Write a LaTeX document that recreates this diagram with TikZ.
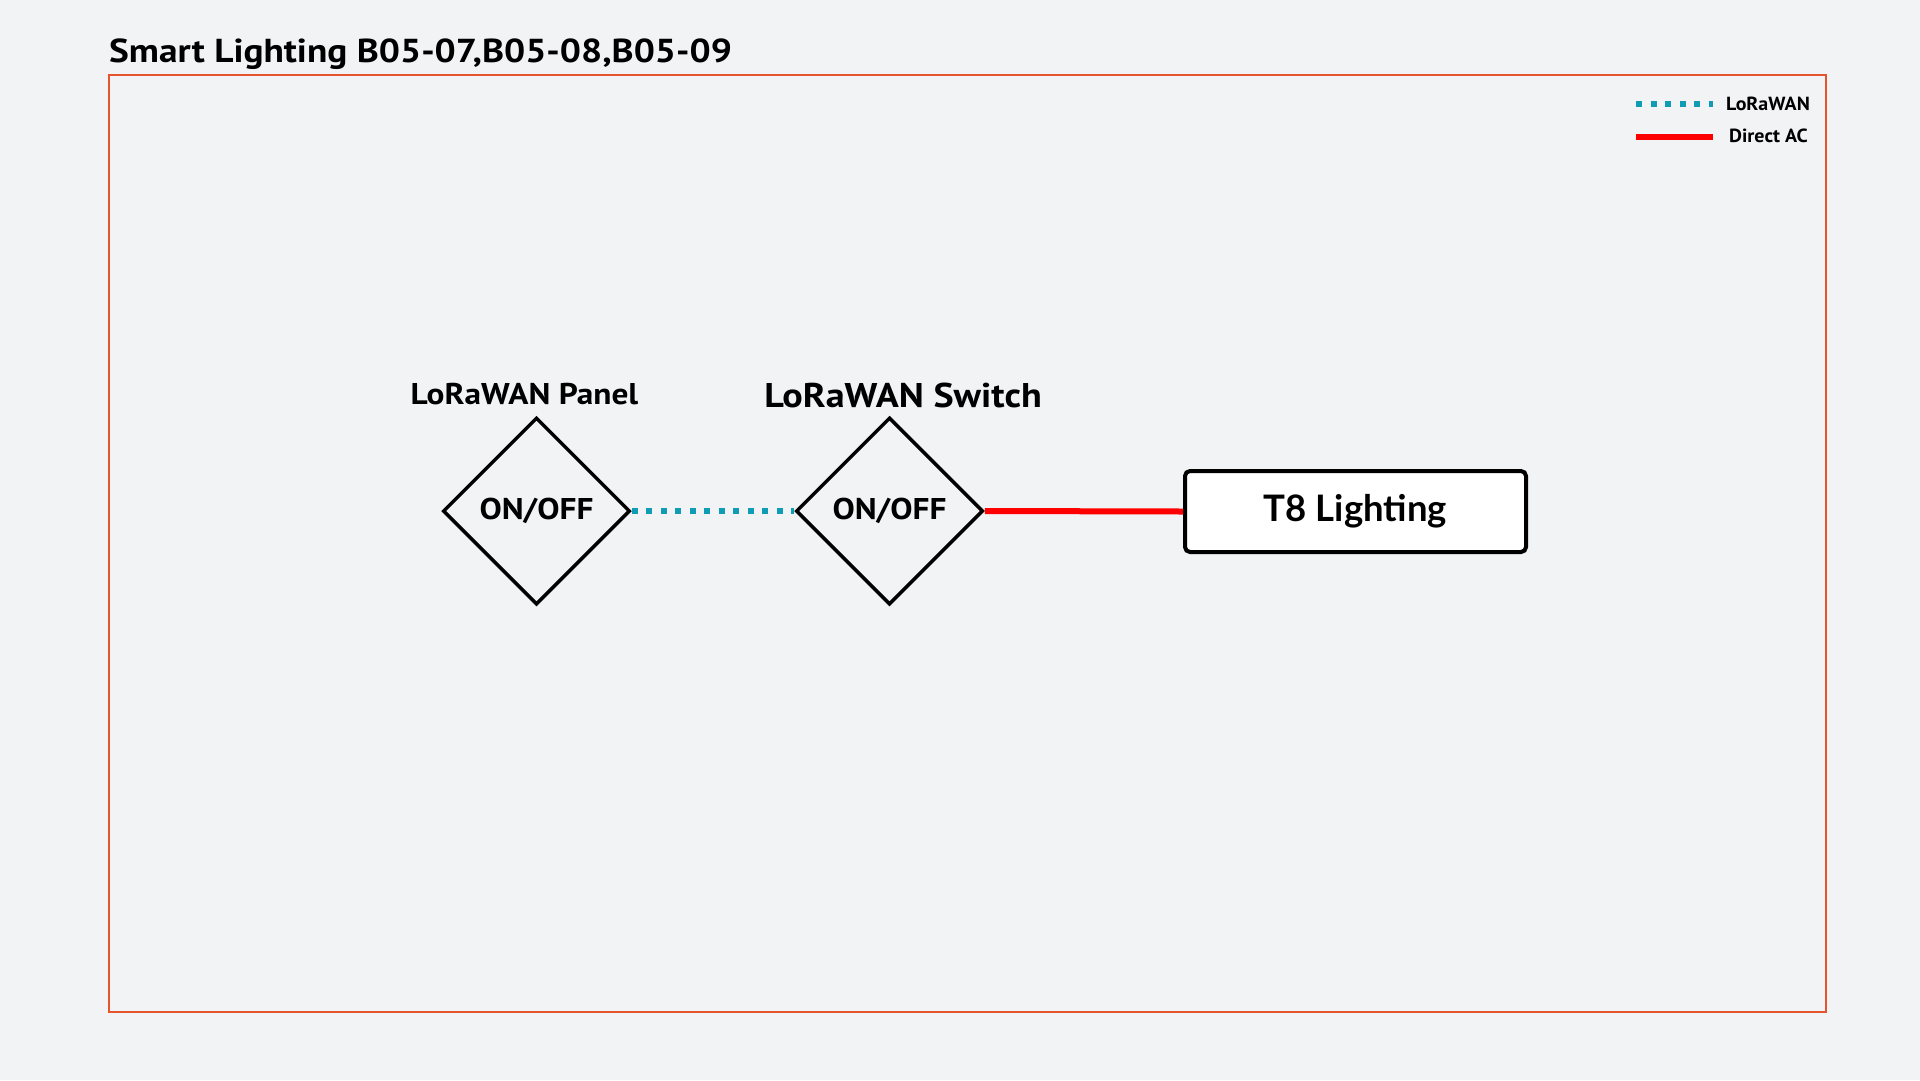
\documentclass[tikz,border=0pt]{standalone}
\usepackage{fontspec}
\setmainfont{PT Sans}[FakeStretch=1.11]
\newfontfamily\titlefont{PT Sans}[FakeStretch=1.125]
\newfontfamily\legendfont{PT Sans}[FakeStretch=1.05]
\newfontfamily\latofont{Lato}
\usetikzlibrary{shapes.geometric}
\definecolor{bgc}{HTML}{F2F3F5}
\definecolor{framec}{HTML}{E4552E}
\definecolor{lorac}{HTML}{109CB4}
\definecolor{acc}{HTML}{FF0000}
\tikzset{
  lbl/.style={inner sep=0pt, font=\bfseries},
  sw/.style={diamond, draw=black, line width=3.5pt, minimum width=187pt, minimum height=187pt, inner sep=0pt, aspect=1, font=\fontsize{30}{36}\selectfont\bfseries},
  lora/.style={draw=lorac, line width=6pt, dash pattern=on 6pt off 8.5pt},
  acline/.style={draw=acc, line width=6pt},
  lampbox/.style={draw=black, fill=white, line width=4pt, rounded corners=5pt, minimum width=341pt, minimum height=81pt, inner sep=0pt, font=\latofont\fontsize{36.5}{40}\selectfont\bfseries}
}
\begin{document}
\begin{tikzpicture}[x=1pt,y=-1pt]
\fill[bgc] (0,0) rectangle (1920,1080);
\useasboundingbox (0,0) rectangle (1920,1080);
\node[lbl, anchor=base west, font=\titlefont\fontsize{33.2}{40}\selectfont\bfseries] (title) at (109,62) {Smart Lighting B05-07,B05-08,B05-09};
\draw[framec, line width=1.5pt] (109,75) rectangle (1826,1012);
% legend
\coordinate (l1a) at (1636,104); \coordinate (l1b) at (1713,104);
\coordinate (l2a) at (1636,137); \coordinate (l2b) at (1713,137);
\draw[lora] (l1a) -- (l1b);
\draw[acline] (l2a) -- (l2b);
\node[lbl, anchor=base west, font=\legendfont\fontsize{19}{22}\selectfont\bfseries] (leg1) at (1726,110) {LoRaWAN};
\node[lbl, anchor=base west, font=\legendfont\fontsize{19}{22}\selectfont\bfseries] (leg2) at (1729,142) {Direct AC};
% nodes
\node[sw] (panel) at (536.5,511) {ON/OFF};
\node[sw] (switch) at (889.5,511) {ON/OFF};
\node[lampbox] (lamp) at (1355.5,511.5) {T8 Lighting};
\node[lbl, anchor=base, font=\fontsize{30}{36}\selectfont\bfseries] (panellbl) at (524.5,404) {LoRaWAN Panel};
\node[lbl, anchor=base, font=\fontsize{34.3}{40}\selectfont\bfseries] (switchlbl) at (903,407) {LoRaWAN Switch};
% connectors
\draw[lora] (panel.east) -- (switch.west);
\draw[acline] (switch.east) -- (lamp.west);
\end{tikzpicture}
\end{document}
